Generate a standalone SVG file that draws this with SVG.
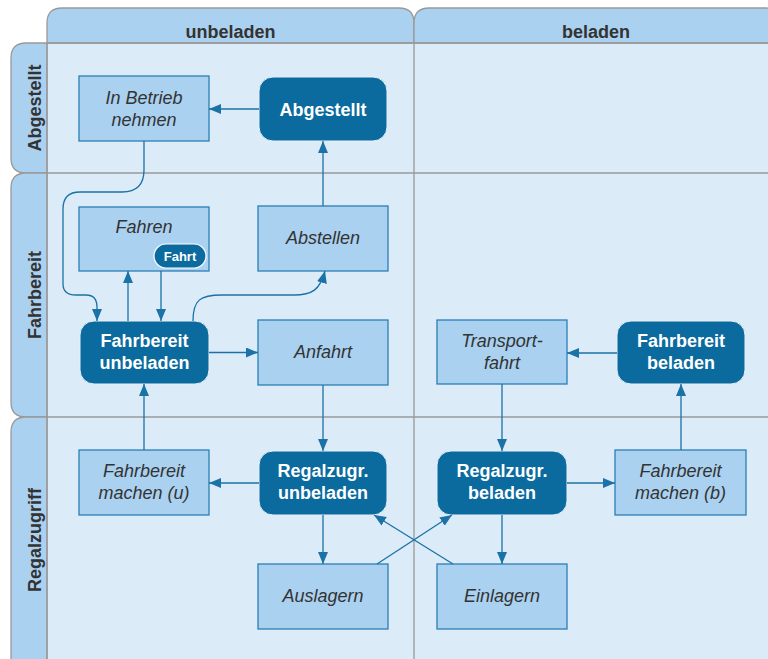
<svg xmlns="http://www.w3.org/2000/svg" width="768" height="659" viewBox="0 0 768 659">
<defs>
<style>
.hdr{fill:#abd1f0;stroke:#999;stroke-width:1.3}
.body{fill:#dcebf8}
.grid{stroke:#999;stroke-width:1.3;fill:none}
.ht{font-family:"Liberation Sans",Arial,sans-serif;font-weight:bold;font-size:18px;fill:#333;text-anchor:middle}
.act rect{fill:#aad1f0;stroke:#2a7fb5;stroke-width:1.3}
.act text{font-family:"Liberation Sans",Arial,sans-serif;font-style:italic;font-size:18px;fill:#333;text-anchor:middle}
.st rect{fill:#0b6b9e;stroke:#e6f1fa;stroke-width:1}
.st text{font-family:"Liberation Sans",Arial,sans-serif;font-weight:bold;font-size:18px;fill:#fff;text-anchor:middle}
.act .badge rect{fill:#0b6b9e;stroke:#fff;stroke-width:1.2}
.act .badge text{font-family:"Liberation Sans",Arial,sans-serif;font-style:normal;font-weight:bold;font-size:13px;fill:#fff;text-anchor:middle}
#connectors path{fill:none;stroke:#1b72a6;stroke-width:1.3;marker-end:url(#arr)}
</style>
<marker id="arr" viewBox="0 0 12 10" refX="12" refY="5" markerWidth="12" markerHeight="10" markerUnits="userSpaceOnUse" orient="auto">
<path d="M0,0 L12,5 L0,10 Z" fill="#1b72a6"/>
</marker>
</defs>
<rect x="0" y="0" width="768" height="659" fill="#fff"/>
<!-- lane backgrounds -->
<rect class="body" x="47" y="43" width="730" height="630"/>
<!-- column headers -->
<g id="col-unbeladen">
<path class="hdr" d="M47,43 V23 Q47,8 62,8 H399 Q414,8 414,23 V43 Z"/>
<text class="ht" x="230.5" y="38">unbeladen</text>
</g>
<g id="col-beladen">
<path class="hdr" d="M414,43 V23 Q414,8 429,8 H766 Q781,8 781,23 V43 Z"/>
<text class="ht" x="596" y="38">beladen</text>
</g>
<!-- row headers -->
<g id="row-abgestellt">
<path class="hdr" d="M47,43 H26 Q11,43 11,58 V158 Q11,173 26,173 H47 Z"/>
<text class="ht" transform="translate(41,108) rotate(-90)">Abgestellt</text>
</g>
<g id="row-fahrbereit">
<path class="hdr" d="M47,173 H26 Q11,173 11,188 V402 Q11,417 26,417 H47 Z"/>
<text class="ht" transform="translate(41,295) rotate(-90)">Fahrbereit</text>
</g>
<g id="row-regalzugriff">
<path class="hdr" d="M47,417 H26 Q11,417 11,432 V680 H47 Z"/>
<text class="ht" transform="translate(41,540) rotate(-90)">Regalzugriff</text>
</g>
<!-- grid lines -->
<path class="grid" d="M47,43 H780 M47,173 H780 M47,417 H780 M47,43 V670 M414,43 V670"/>
<!-- nodes -->
<g id="n-inbetrieb" class="act">
<rect x="79" y="76" width="130" height="65"/>
<text x="144" y="104">In Betrieb</text>
<text x="144" y="126">nehmen</text>
</g>
<g id="n-abgestellt" class="st">
<rect x="259" y="77" width="128" height="64" rx="14"/>
<text x="323" y="115.5">Abgestellt</text>
</g>
<g id="n-fahren" class="act">
<rect x="79" y="207" width="130" height="64"/>
<text x="144" y="233">Fahren</text>
<g class="badge">
<rect x="154" y="244" width="52" height="24" rx="12"/>
<text x="180" y="260.5">Fahrt</text>
</g>
</g>
<g id="n-abstellen" class="act">
<rect x="258" y="206" width="130" height="65"/>
<text x="323" y="244">Abstellen</text>
</g>
<g id="n-fbu" class="st">
<rect x="80" y="321" width="129" height="63" rx="14"/>
<text x="144.5" y="347">Fahrbereit</text>
<text x="144.5" y="368.5">unbeladen</text>
</g>
<g id="n-anfahrt" class="act">
<rect x="258" y="320" width="130" height="65"/>
<text x="323" y="358">Anfahrt</text>
</g>
<g id="n-transport" class="act">
<rect x="437" y="320" width="130" height="64"/>
<text x="502" y="347">Transport-</text>
<text x="502" y="368.5">fahrt</text>
</g>
<g id="n-fbb" class="st">
<rect x="617" y="321" width="128" height="63" rx="14"/>
<text x="681" y="347">Fahrbereit</text>
<text x="681" y="368.5">beladen</text>
</g>
<g id="n-fmu" class="act">
<rect x="79" y="450" width="130" height="65"/>
<text x="144" y="477">Fahrbereit</text>
<text x="144" y="498.5">machen (u)</text>
</g>
<g id="n-rzu" class="st">
<rect x="259" y="451" width="128" height="64" rx="14"/>
<text x="323" y="477">Regalzugr.</text>
<text x="323" y="498.5">unbeladen</text>
</g>
<g id="n-rzb" class="st">
<rect x="437" y="451" width="130" height="64" rx="14"/>
<text x="502" y="477">Regalzugr.</text>
<text x="502" y="498.5">beladen</text>
</g>
<g id="n-fmb" class="act">
<rect x="615" y="450" width="131" height="65"/>
<text x="680.5" y="477">Fahrbereit</text>
<text x="680.5" y="498.5">machen (b)</text>
</g>
<g id="n-auslagern" class="act">
<rect x="258" y="564" width="130" height="65"/>
<text x="323" y="602">Auslagern</text>
</g>
<g id="n-einlagern" class="act">
<rect x="437" y="564" width="130" height="65"/>
<text x="502" y="602">Einlagern</text>
</g>
<!-- connectors -->
<g id="connectors">
<path d="M259,109 H209"/>
<path d="M323,206 V141"/>
<path d="M144,141 V170 Q144,192 122,192 H80 Q63,192 63,209 V284 Q63,295 76,295 H86 Q97,295 97,307 V321"/>
<path d="M128,321 V271"/>
<path d="M161,271 V321"/>
<path d="M193,321 C193,300 200,295 222,295 L294,295 C312,295 320,290 325,271"/>
<path d="M209,352.5 H258"/>
<path d="M323,385 V451"/>
<path d="M259,483 H209"/>
<path d="M144,450 V384"/>
<path d="M323,515 V564"/>
<path d="M377,564 L452,515"/>
<path d="M453,564 L374,515"/>
<path d="M617,353 H567"/>
<path d="M502,384 V451"/>
<path d="M567,483 H615"/>
<path d="M681,450 V384"/>
<path d="M502,515 V564"/>
</g>
</svg>
